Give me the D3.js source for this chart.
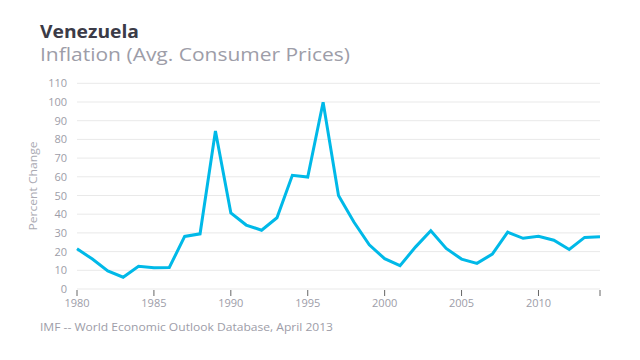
<!DOCTYPE html>
<html><head><meta charset="utf-8">
<script src="https://cdn.jsdelivr.net/npm/d3@7"></script>
<style>body{margin:0;background:#fff;}svg{display:block;}text{font-family:"Open Sans",Roboto,sans-serif;}</style>
</head><body>
<svg id="c" width="640" height="360"></svg>
<script>
const years = d3.range(1980, 2015);
const inflation = [21.5, 16.0, 9.7, 6.3, 12.2, 11.4, 11.5, 28.1, 29.5, 84.5, 40.7, 34.2, 31.4, 38.1, 60.8, 59.9, 99.9, 50.0, 35.8, 23.6, 16.2, 12.5, 22.4, 31.1, 21.7, 16.0, 13.7, 18.7, 30.4, 27.1, 28.2, 26.1, 21.1, 27.6, 28.0];
const yTicks = [0,10,20,30,40,50,60,70,80,90,100,110];
const xTicks = [1980,1985,1990,1995,2000,2005,2010,2014];
const xTickLabels = ["1980","1985","1990","1995","2000","2005","2010",""];

const svg = d3.select("#c");
const x = d3.scaleLinear().domain([1980, 2014]).range([77, 600]);
const y = d3.scaleLinear().domain([0, 110]).range([289, 83.3]);
const grey = "#9d9da8";

svg.append("g").selectAll("line").data(yTicks).join("line")
  .attr("x1", 77).attr("x2", 600)
  .attr("y1", d => y(d)).attr("y2", d => y(d))
  .attr("stroke", "#e9e9e9").attr("stroke-width", 1);

svg.append("g").selectAll("text").data(yTicks).join("text")
  .attr("x", 67).attr("y", d => y(d) + 4)
  .attr("text-anchor", "end").attr("font-size", 11).attr("fill", grey)
  .text(d => d);

svg.append("g").selectAll("line").data(xTicks).join("line")
  .attr("x1", d => x(d)).attr("x2", d => x(d))
  .attr("y1", 290).attr("y2", 296)
  .attr("stroke", "#666").attr("stroke-width", 1);
svg.append("g").selectAll("text").data(xTicks).join("text")
  .attr("x", d => x(d)).attr("y", 307)
  .attr("text-anchor", "middle")
  .attr("font-size", 11).attr("fill", grey)
  .text((d, i) => xTickLabels[i]);

svg.append("path").datum(years.map((yr, i) => [yr, inflation[i]]))
  .attr("fill", "none").attr("stroke", "#00b9e8").attr("stroke-width", 3)
  .attr("stroke-linejoin", "miter")
  .attr("d", d3.line().x(d => x(d[0])).y(d => y(d[1])));

svg.append("text").attr("x", 40).attr("y", 38).attr("font-size", 17).attr("font-weight", "bold")
  .attr("fill", "#3b3b47").attr("textLength", 99).attr("lengthAdjust", "spacingAndGlyphs").text("Venezuela");
svg.append("text").attr("x", 40).attr("y", 61).attr("font-size", 19)
  .attr("fill", grey).attr("textLength", 310).attr("lengthAdjust", "spacingAndGlyphs").text("Inflation (Avg. Consumer Prices)");
svg.append("text").attr("transform", "translate(37,186) rotate(-90)")
  .attr("text-anchor", "middle").attr("font-size", 10.5).attr("fill", "#aaaab3")
  .attr("textLength", 89).attr("lengthAdjust", "spacingAndGlyphs").text("Percent Change");
svg.append("text").attr("x", 40).attr("y", 331).attr("font-size", 11)
  .attr("fill", grey).attr("textLength", 293).attr("lengthAdjust", "spacingAndGlyphs").text("IMF -- World Economic Outlook Database, April 2013");
</script>
</body></html>
